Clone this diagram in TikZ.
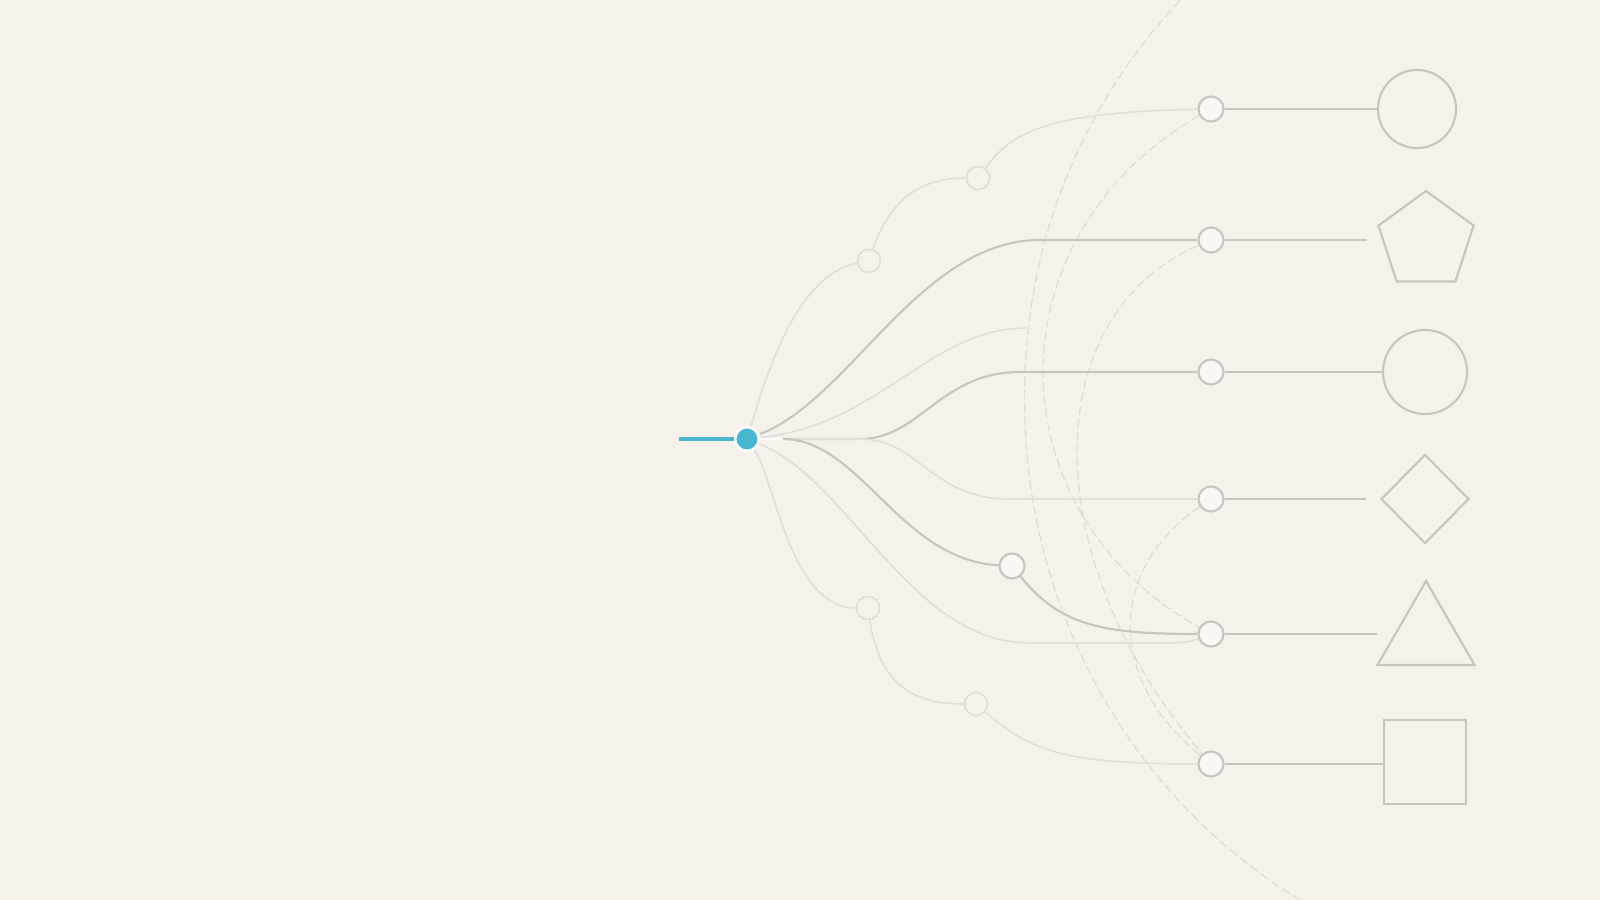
\documentclass[tikz,border=0pt]{standalone}
\usetikzlibrary{shapes.geometric}
\definecolor{paper}{HTML}{F6F1EB}
\definecolor{wire}{HTML}{C8C4C0}
\definecolor{faint}{HTML}{E2DED9}
\definecolor{ghost}{HTML}{E0DCD7}
\definecolor{signal}{HTML}{4AB7D0}
\tikzset{
	port/.style={draw=wire,fill=paper!55!white,circle,line width=0.6pt,minimum size=0.25cm,inner sep=0pt},
	hint/.style={draw=faint,circle,line width=0.5pt,minimum size=0.23cm,inner sep=0pt},
	glyph/.style={draw=wire,line width=0.6pt,inner sep=0pt},
	lead/.style={draw=wire,line width=0.6pt},
	wisp/.style={draw=faint,line width=0.45pt},
	guide/.style={draw=ghost,line width=0.35pt,dash pattern=on 2.6pt off 1.1pt},
}
\begin{document}
\begin{tikzpicture}[x=0.01cm,y=-0.01cm]
			\fill[paper] (0,0) rectangle (1600,900);
			\useasboundingbox (0,0) rectangle (1600,900);
			%
			\node[circle,fill=signal,draw=white,line width=0.8pt,minimum size=0.24cm,inner sep=0pt] (s) at (747,439) {};
			\coordinate (tail) at (679,439);
			\coordinate (hub)  at (783,439);
			\node[hint] (a1) at (869,261) {};
			\node[hint] (a2) at (978,178) {};
			\node[hint] (b1) at (868,608) {};
			\node[hint] (b2) at (976,704) {};
			\node[port] (m)  at (1012,566) {};
			\foreach \n/\y in {1/109, 2/240, 3/372, 4/499, 5/634, 6/764}
			{	\node[port] (r\n) at (1211,\y) {};
			}
			%
			\node[glyph,circle,minimum size=0.78cm] (f1) at (1417,109) {};
			\node[glyph,regular polygon,regular polygon sides=5,minimum size=1cm] (f2) at (1426,241) {};
			\node[glyph,circle,minimum size=0.84cm] (f3) at (1425,372) {};
			\node[glyph,diamond,minimum width=0.88cm,minimum height=0.89cm] (f4) at (1425,499) {};
			\node[glyph,regular polygon,regular polygon sides=3,minimum size=1.12cm] (f5) at (1426,637) {};
			\node[glyph,rectangle,minimum width=0.82cm,minimum height=0.84cm] (f6) at (1425,762) {};
			\coordinate (e2) at (1367,240);
			\coordinate (e4) at (1366,499);
			\coordinate (e5) at (1377,634);
			\coordinate (e6) at (1384,764);
			\coordinate (stub) at (1026,328);
			\coordinate (arcT) at (1180,0);
			\coordinate (arcB) at (1300,900);
			%
			\def\rows {r1/f1, r2/e2, r3/f3, r4/e4, r5/e5, r6/e6}  % row leads
			\foreach \u\v in \rows
			{	\draw[lead] (\u) -- (\v);
			}
			%
			\draw[guide] (arcT) .. controls (1060,130) and (1020,280) .. (1025,420) .. controls (1030,600) and (1120,790) .. (arcB);
			\draw[guide] (r1) .. controls (991,235) and (991,510) .. (r5);
			\draw[guide] (r2) .. controls (1036,316) and (1036,560) .. (r6);
			\draw[guide] (r4) .. controls (1107,570) and (1107,680) .. (r6);
			%
			\draw[wisp] (s) .. controls (765,380) and (795,275) .. (a1);
			\draw[wisp] (a1) .. controls (888,205) and (915,178) .. (a2);
			\draw[wisp] (a2) .. controls (1010,135) and (1040,112) .. (r1);
			\draw[lead] (s) .. controls (850,400) and (920,240) .. (1040,240) -- (r2);
			\draw[wisp] (s) .. controls (880,425) and (930,328) .. (stub);
			\draw[lead] (hub) -- (860,439) .. controls (920,439) and (940,372) .. (1020,372) -- (r3);
			\draw[wisp] (hub) -- (860,439) .. controls (920,439) and (930,499) .. (1010,499) -- (r4);
			\draw[lead] (hub) .. controls (860,439) and (900,560) .. (m);
			\draw[lead] (m) .. controls (1060,625) and (1100,634) .. (r5);
			\draw[wisp] (s) .. controls (850,480) and (910,643) .. (1030,643) -- (1170,643) .. controls (1190,643) and (1195,640) .. (r5);
			\draw[wisp] (s) .. controls (775,480) and (790,608) .. (b1);
			\draw[wisp] (b1) .. controls (880,690) and (920,704) .. (b2);
			\draw[wisp] (b2) .. controls (1030,750) and (1060,764) .. (r6);
			%
			\draw[signal,line width=0.9pt] (tail) -- (s);
			\draw[white,line width=0.8pt] (s) -- (hub);
			%
		\end{tikzpicture}
\end{document}
